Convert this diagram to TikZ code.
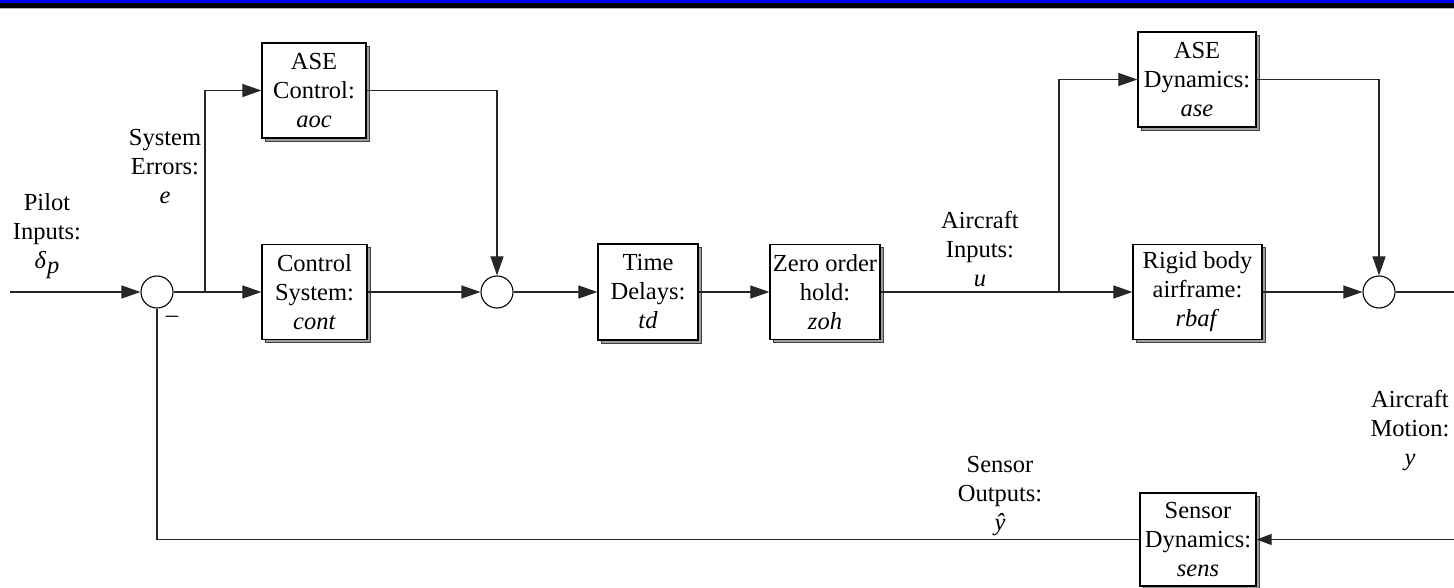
\documentclass[tikz,border=0pt]{standalone}
\usepackage{fontspec}
\setmainfont{Liberation Serif}
\usetikzlibrary{arrows.meta,shadows}
\begin{document}
\begin{tikzpicture}[x=1pt,y=-1pt,
  txt/.style={font=\fontsize{24.5}{29}\selectfont, align=center, inner sep=0pt},
  blk/.style={txt, draw=black, line width=1.2pt, fill=white,
     drop shadow={shadow xshift=3pt, shadow yshift=-3pt, fill=gray!75, draw=black!75, line width=0.8pt, opacity=1}},
  sum/.style={circle, draw=black, line width=1.1pt, fill=white, minimum size=32pt, inner sep=0pt},
  conn/.style={line width=1.1pt, draw=black!85},
  arr/.style={conn, -{Triangle[length=19pt,width=13pt]}},
  smallarr/.style={conn, -{Triangle[length=15pt,width=11pt]}}]
\useasboundingbox (0,0) rectangle (1454,588);
% top bar
\fill[blue] (0,0) rectangle (1454,3.4);
\fill[black] (0,3.4) rectangle (1454,8);
\draw[gray!60, line width=0.5pt] (0,8.4) -- (1454,8.4);
% blocks
\node[blk, minimum width=104pt, minimum height=95pt] (aoc) at (314,90.5) {ASE\\Control:\\\textit{aoc}};
\node[blk, minimum width=105pt, minimum height=95pt] (cont) at (314.5,292) {Control\\System:\\\textit{cont}};
\node[blk, minimum width=100pt, minimum height=96pt] (td) at (648,292) {Time\\Delays:\\\textit{td}};
\node[blk, minimum width=110pt, minimum height=95pt] (zoh) at (825,292) {Zero order\\hold:\\\textit{zoh}};
\node[blk, minimum width=118pt, minimum height=95pt] (ase) at (1197,79.5) {ASE\\Dynamics:\\\textit{ase}};
\node[blk, minimum width=129pt, minimum height=95pt] (rbaf) at (1197.5,292) {Rigid body\\airframe:\\\textit{rbaf}};
\node[blk, minimum width=116pt, minimum height=93pt] (sens) at (1198,539.5) {Sensor\\Dynamics:\\\textit{sens}};
% summers
\node[sum] (s1) at (157,292) {};
\node[sum] (s2) at (497,292) {};
\node[sum] (s3) at (1379,292) {};
% coordinates
\coordinate (pin) at (10,292);
\coordinate (b1) at (205,292);
\coordinate (b2) at (1059,292);
\coordinate (yout) at (1454,292);
\coordinate (yin) at (1454,539.5);
% connectors
\draw[arr] (pin) -- (s1.west);
\draw[conn] (s1.east) -- (b1);
\draw[arr] (b1) -- (cont.west);
\draw[arr] (b1) |- (aoc.west);
\draw[arr] (aoc.east) -| (s2.north);
\draw[arr] (cont.east) -- (s2.west);
\draw[arr] (s2.east) -- (td.west);
\draw[arr] (td.east) -- (zoh.west);
\draw[conn] (zoh.east) -- (b2);
\draw[arr] (b2) -- (rbaf.west);
\draw[arr] (b2) |- (ase.west);
\draw[arr] (ase.east) -| (s3.north);
\draw[arr] (rbaf.east) -- (s3.west);
\draw[conn] (s3.east) -- (yout);
\draw[smallarr] (yin) -- (sens.east);
\draw[conn] (sens.west) -| (s1.south);
% labels
\node[txt] (lpilot) at (47,236) {Pilot\\Inputs:\\{\itshape δ}\kern1pt\raisebox{-0.4ex}{\itshape p}};
\node[txt] (lerr) at (165,167) {System\\Errors:\\\textit{e}};
\node[txt] (lu) at (980,249) {Aircraft\\Inputs:\\\textit{u}};
\node[txt] (ly) at (1410,431) {Aircraft\\Motion:\\\textit{y}};
\node[txt] (lyh) at (1000,496) {Sensor\\Outputs:\\\textit{ŷ}};
\node[txt] (minus) at (172,319) {–};
\end{tikzpicture}
\end{document}
